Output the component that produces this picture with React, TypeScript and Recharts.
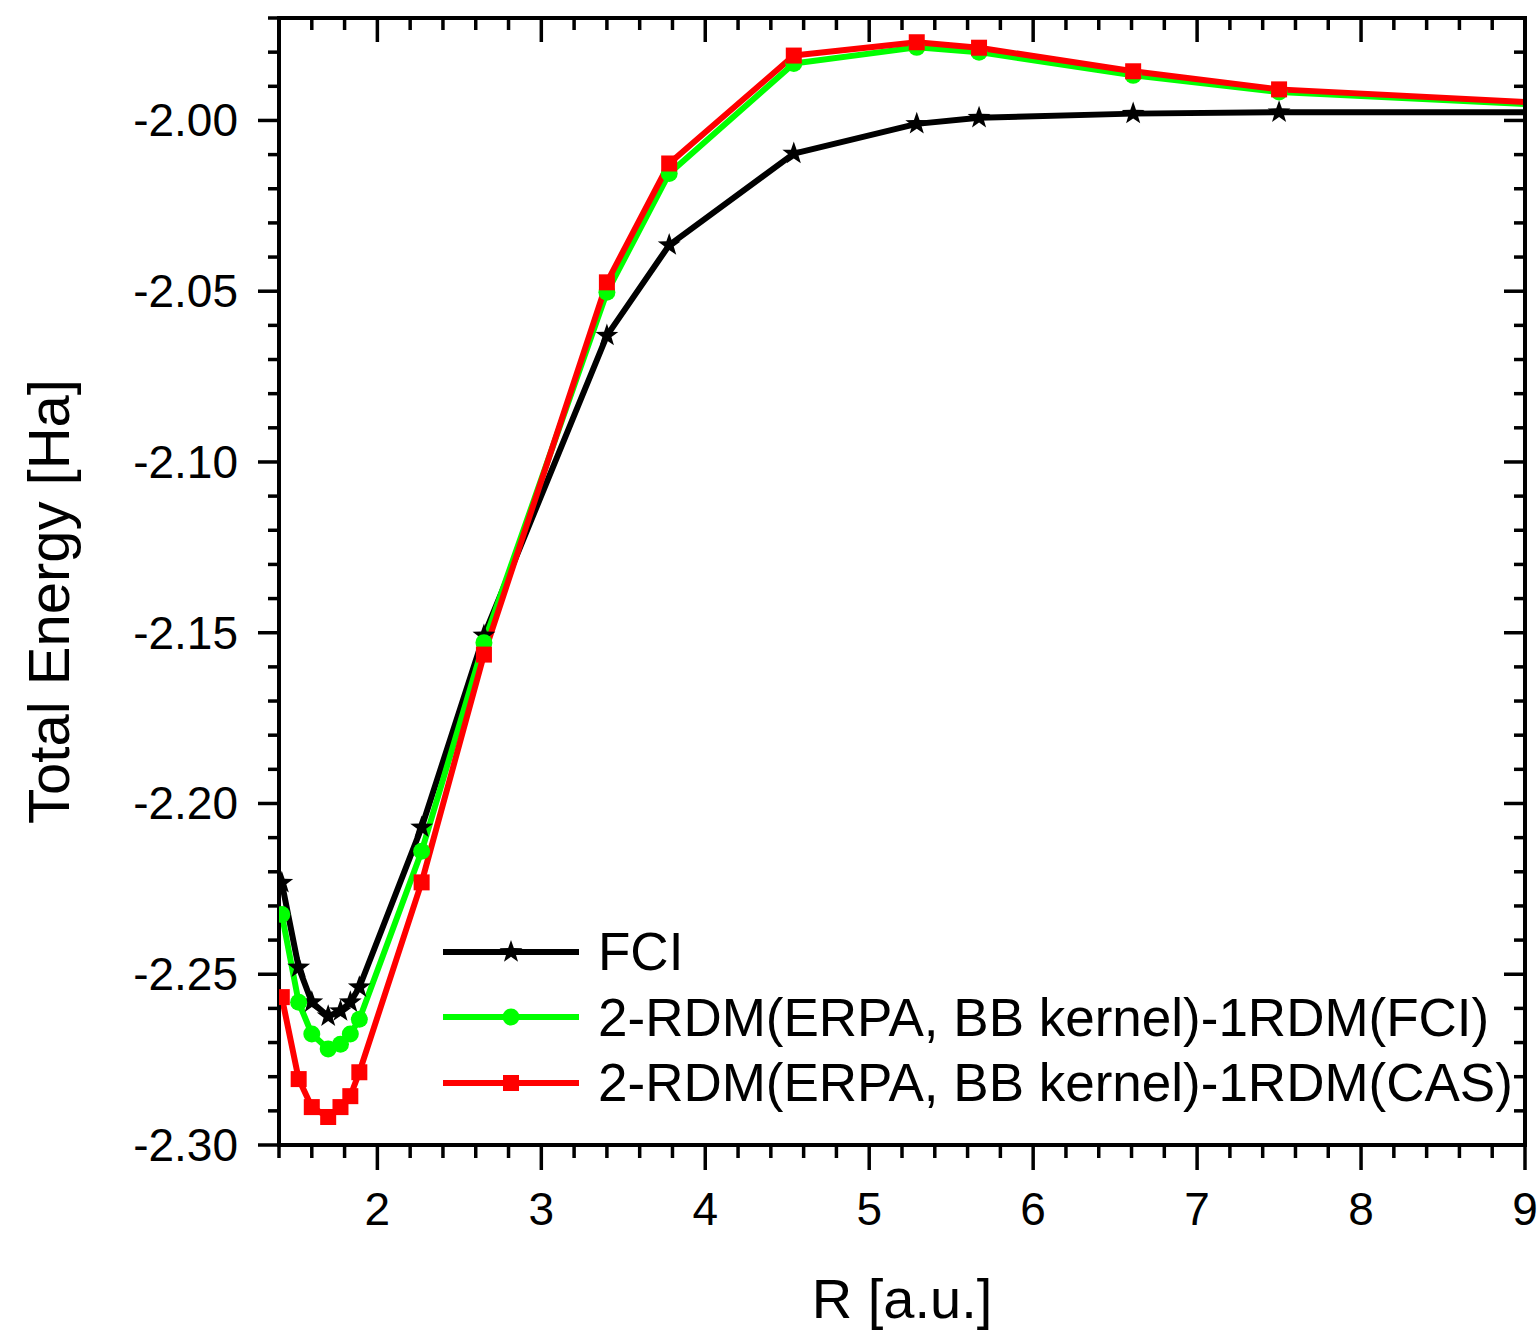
import { LineChart, Line, XAxis, YAxis } from 'recharts';

// bond length R [a.u.]
const rValues = [1.417, 1.52, 1.6, 1.7, 1.775, 1.835, 1.89, 2.27, 2.65, 3.4, 3.78, 4.54, 5.29, 5.67, 6.61, 7.5, 9.45];

// total energies [Ha]
const fciEnergy = [-2.2232, -2.248, -2.2582, -2.2623, -2.2608, -2.2582, -2.2538, -2.207, -2.1508, -2.063, -2.0365, -2.0097, -2.001, -1.9992, -1.998, -1.9976, -1.9976];
const rdmFciEnergy = [-2.2325, -2.2582, -2.2675, -2.2719, -2.2705, -2.2675, -2.2632, -2.214, -2.1529, -2.0503, -2.0155, -1.9833, -1.9786, -1.98, -1.9868, -1.9917, -1.9962];
const rdmCasEnergy = [-2.2567, -2.2807, -2.2889, -2.2918, -2.2889, -2.2857, -2.2787, -2.2231, -2.1564, -2.0474, -2.0126, -1.981, -1.9771, -1.9787, -1.9856, -1.9909, -1.9957];

const xTicks = [1.4, 1.6, 1.8, 2, 2.2, 2.4, 2.6, 2.8, 3, 3.2, 3.4, 3.6, 3.8, 4, 4.2, 4.4, 4.6, 4.8, 5, 5.2, 5.4, 5.6, 5.8, 6, 6.2, 6.4, 6.6, 6.8, 7, 7.2, 7.4, 7.6, 7.8, 8, 8.2, 8.4, 8.6, 8.8, 9];
const xLabelTicks = [2, 3, 4, 5, 6, 7, 8, 9];
const yTicks = [-2.3, -2.29, -2.28, -2.27, -2.26, -2.25, -2.24, -2.23, -2.22, -2.21, -2.2, -2.19, -2.18, -2.17, -2.16, -2.15, -2.14, -2.13, -2.12, -2.11, -2.1, -2.09, -2.08, -2.07, -2.06, -2.05, -2.04, -2.03, -2.02, -2.01, -2, -1.99, -1.98, -1.97];
const yLabelTicks = [-2.3, -2.25, -2.2, -2.15, -2.1, -2.05, -2];

const seriesNames = ['FCI', '2-RDM(ERPA, BB kernel)-1RDM(FCI)', '2-RDM(ERPA, BB kernel)-1RDM(CAS)'];

const data = rValues.map((r, i) => ({
  r,
  fci: fciEnergy[i],
  rdmFci: rdmFciEnergy[i],
  rdmCas: rdmCasEnergy[i],
}));

const FONT = '"Liberation Sans", Arial, Helvetica, sans-serif';
const BLACK = '#000000';
const GREEN = '#00ff00';
const RED = '#ff0000';

const inList = (list: number[], v: number) => list.some((t) => Math.abs(t - v) < 1e-9);

function starPath(cx: number, cy: number, ro: number, ri: number) {
  let d = '';
  for (let k = 0; k < 10; k++) {
    const rad = k % 2 === 0 ? ro : ri;
    const a = -Math.PI / 2 + (k * Math.PI) / 5;
    d += (k === 0 ? 'M' : 'L') + (cx + rad * Math.cos(a)).toFixed(2) + ',' + (cy + rad * Math.sin(a)).toFixed(2);
  }
  return d + 'Z';
}

const STAR_R = 12;
const STAR_RI = 4.8;
const DOT_R = 8.5;
const SQ = 16;

const StarDot = (p: any) =>
  p.cx == null ? <g key={p.index} /> : <path key={p.index} d={starPath(p.cx, p.cy, STAR_R, STAR_RI)} fill={BLACK} />;
const CircleDot = (p: any) =>
  p.cx == null ? <g key={p.index} /> : <circle key={p.index} cx={p.cx} cy={p.cy} r={DOT_R} fill={GREEN} />;
const SquareDot = (p: any) =>
  p.cx == null ? <g key={p.index} /> : <rect key={p.index} x={p.cx - SQ / 2} y={p.cy - SQ / 2} width={SQ} height={SQ} fill={RED} />;

const BottomTick = ({ x, y, payload }: any) => {
  const major = inList(xLabelTicks, payload.value);
  return (
    <g>
      <line x1={x} x2={x} y1={y} y2={y + (major ? 25 : 13)} stroke={BLACK} strokeWidth={3.5} />
      {major && (
        <text x={x} y={y + 80} textAnchor="middle" fontSize={46} fontFamily={FONT} fill={BLACK}>
          {payload.value}
        </text>
      )}
    </g>
  );
};

const TopTick = ({ x, y, payload }: any) => {
  const major = inList(xLabelTicks, payload.value);
  return <line x1={x} x2={x} y1={y} y2={y + (major ? 24 : 12)} stroke={BLACK} strokeWidth={3.5} />;
};

const LeftTick = ({ x, y, payload }: any) => {
  const major = inList(yLabelTicks, payload.value);
  return (
    <g>
      <line x1={x} x2={x - (major ? 21 : 11)} y1={y} y2={y} stroke={BLACK} strokeWidth={3.5} />
      {major && (
        <text x={x - 41} y={y + 16} textAnchor="end" fontSize={46} fontFamily={FONT} fill={BLACK}>
          {payload.value.toFixed(2)}
        </text>
      )}
    </g>
  );
};

const RightTick = ({ x, y, payload }: any) => {
  const major = inList(yLabelTicks, payload.value);
  return <line x1={x} x2={x - (major ? 21 : 11)} y1={y} y2={y} stroke={BLACK} strokeWidth={3.5} />;
};

const XTitle = (props: any) => {
  const vb = props.viewBox;
  return (
    <text x={vb.x + vb.width / 2} y={vb.y + 173} textAnchor="middle" fontSize={56} fontFamily={FONT} fill={BLACK}>
      R [a.u.]
    </text>
  );
};

const YTitle = (props: any) => {
  const vb = props.viewBox;
  const cx = vb.x + 69;
  const cy = vb.y + vb.height / 2 + 20;
  return (
    <text x={cx} y={cy} transform={`rotate(-90 ${cx} ${cy})`} textAnchor="middle" fontSize={58} fontFamily={FONT} fill={BLACK}>
      Total Energy [Ha]
    </text>
  );
};

const legendRows = [
  { name: seriesNames[0], color: BLACK, marker: (cx: number, cy: number) => <path d={starPath(cx, cy, STAR_R, STAR_RI)} fill={BLACK} /> },
  { name: seriesNames[1], color: GREEN, marker: (cx: number, cy: number) => <circle cx={cx} cy={cy} r={DOT_R} fill={GREEN} /> },
  { name: seriesNames[2], color: RED, marker: (cx: number, cy: number) => <rect x={cx - SQ / 2} y={cy - SQ / 2} width={SQ} height={SQ} fill={RED} /> },
];

const axisLine = { stroke: BLACK, strokeWidth: 4, strokeLinecap: 'square' as const };

export default function App() {
  return (
    <div style={{ position: 'relative', width: 1539, height: 1331, background: '#fff' }}>
      <style>{'body{margin:0;background:#fff}'}</style>
      <LineChart width={1539} height={1331} data={data} margin={{ top: 17, right: 13, left: 0, bottom: 0 }}>
        <XAxis
          dataKey="r"
          type="number"
          domain={[1.4, 9]}
          allowDataOverflow
          ticks={xTicks}
          interval={0}
          tickSize={0}
          tickMargin={0}
          tick={<BottomTick />}
          tickLine={false}
          axisLine={axisLine}
          height={186}
          label={{ content: <XTitle /> }}
        />
        <XAxis
          xAxisId="top"
          dataKey="r"
          orientation="top"
          type="number"
          domain={[1.4, 9]}
          allowDataOverflow
          ticks={xTicks}
          interval={0}
          tickSize={0}
          tickMargin={0}
          tick={<TopTick />}
          tickLine={false}
          axisLine={axisLine}
          height={1}
        />
        <YAxis
          type="number"
          domain={[-2.3, -1.97]}
          allowDataOverflow
          ticks={yTicks}
          interval={0}
          tickSize={0}
          tickMargin={0}
          tick={<LeftTick />}
          tickLine={false}
          axisLine={axisLine}
          width={279}
          label={{ content: <YTitle /> }}
        />
        <YAxis
          yAxisId="right"
          orientation="right"
          type="number"
          domain={[-2.3, -1.97]}
          allowDataOverflow
          ticks={yTicks}
          interval={0}
          tickSize={0}
          tickMargin={0}
          tick={<RightTick />}
          tickLine={false}
          axisLine={axisLine}
          width={1}
        />
        <Line dataKey="fci" name={seriesNames[0]} stroke={BLACK} strokeWidth={6} strokeLinejoin="round" dot={StarDot} activeDot={false} isAnimationActive={false} />
        <Line dataKey="rdmFci" name={seriesNames[1]} stroke={GREEN} strokeWidth={6} strokeLinejoin="round" dot={CircleDot} activeDot={false} isAnimationActive={false} />
        <Line dataKey="rdmCas" name={seriesNames[2]} stroke={RED} strokeWidth={6} strokeLinejoin="round" dot={SquareDot} activeDot={false} isAnimationActive={false} />
        {/* phantom series so the top and right frame axes are drawn */}
        <Line xAxisId="top" yAxisId="right" dataKey="fci" stroke="none" dot={false} activeDot={false} legendType="none" isAnimationActive={false} />
      </LineChart>
      <div style={{ position: 'absolute', left: 443, top: 919, fontFamily: FONT, fontSize: 53, lineHeight: 1, color: BLACK }}>
        {legendRows.map((row) => (
          <div key={row.name} style={{ display: 'flex', alignItems: 'center', height: 65.5, whiteSpace: 'nowrap' }}>
            <svg width={136} height={30} style={{ display: 'block', flex: 'none' }}>
              <line x1={0} x2={136} y1={15} y2={15} stroke={row.color} strokeWidth={6} />
              {row.marker(68, 15)}
            </svg>
            <span style={{ marginLeft: 19 }}>{row.name}</span>
          </div>
        ))}
      </div>
    </div>
  );
}
